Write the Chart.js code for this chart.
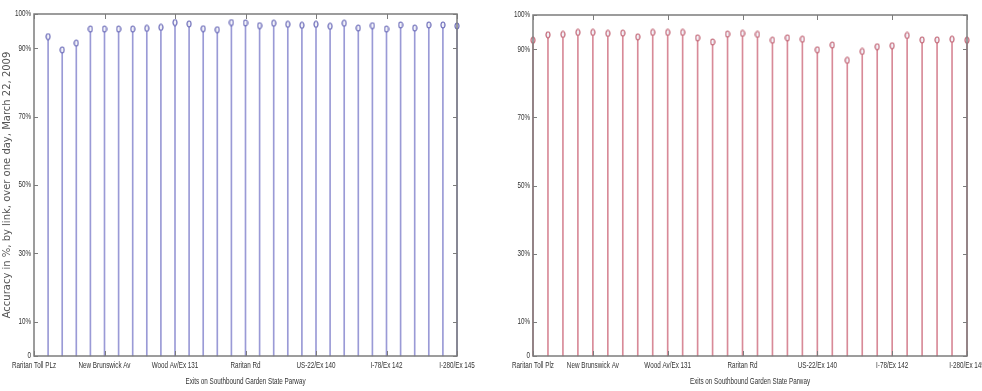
<!DOCTYPE html>
<html>
<head>
<meta charset="utf-8">
<script src="https://cdn.jsdelivr.net/npm/chart.js@4"></script>
<style>
  html, body { margin: 0; padding: 0; background: #fff; }
  body { width: 982px; height: 391px; position: relative; overflow: hidden; }
  .panel { position: absolute; top: 0; width: 491px; height: 391px; }
  #panel-a { left: 0; }
  #panel-b { left: 491px; }
</style>
</head>
<body>
<div class="panel" id="panel-a"><canvas id="chartA" width="491" height="391"></canvas></div>
<div class="panel" id="panel-b"><canvas id="chartB" width="491" height="391"></canvas></div>
<script>
// link numbers along the parkway (one stem per link)
const linkIds = [1, 2, 3, 4, 5, 6, 7, 8, 9, 10, 11, 12, 13, 14, 15, 16, 17, 18, 19, 20, 21, 22, 23, 24, 25, 26, 27, 28, 29, 30];

// accuracy in %, left (blue) and right (red) panels
const accuracyA = [93.4, 89.5, 91.5, 95.6, 95.6, 95.6, 95.6, 95.8, 96.1, 97.5,
                   97.1, 95.7, 95.4, 97.5, 97.4, 96.6, 97.3, 97.0, 96.7, 97.0,
                   96.4, 97.3, 95.9, 96.6, 95.6, 96.8, 95.9, 96.8, 96.8, 96.5];
const accuracyB = [92.6, 94.2, 94.3, 94.9, 94.9, 94.6, 94.7, 93.6, 94.9, 94.9,
                   94.9, 93.3, 92.1, 94.4, 94.6, 94.3, 92.6, 93.3, 92.9, 89.8,
                   91.2, 86.7, 89.3, 90.7, 91.0, 94.0, 92.7, 92.7, 92.9, 92.6];

// axis ticks
const yTickValues = [0, 10, 30, 50, 70, 90, 100];
const xTicksA = [0, 5, 10, 15, 20, 25, 30];
const xTicksB = [1, 5, 10, 15, 20, 25, 30];
const exitLabelsA = ['Raritan Toll PLz', 'New Brunswick Av', 'Wood Av/Ex 131', 'Raritan Rd', 'US-22/Ex 140', 'I-78/Ex 142', 'I-280/Ex 145'];
const exitLabelsB = ['Raritan Toll Plz', 'New Brunswick Av', 'Wood Av/Ex 131', 'Raritan Rd', 'US-22/Ex 140', 'I-78/Ex 142', 'I-280/Ex 145'];

const xTitle = 'Exits on Southbound Garden State Parway';
const yTitle = 'Accuracy in %, by link, over one day, March 22, 2009';

const labelFont = "9px 'Liberation Sans', Arial, sans-serif";
const squeeze = 0.7;   // the original text is a narrow face

// small open ellipse used as the stem head
function makeMarker(stroke) {
    const c = document.createElement('canvas');
    c.width = 6; c.height = 8;
    const g = c.getContext('2d');
    g.beginPath();
    g.ellipse(3, 4, 2, 3, 0, 0, Math.PI * 2);
    g.fillStyle = '#f4f4fa';
    g.fill();
    g.lineWidth = 1.2;
    g.strokeStyle = stroke;
    g.stroke();
    return c;
}

function narrowText(ctx, text, x, y, align, baseline) {
    ctx.save();
    ctx.translate(x, y);
    ctx.scale(squeeze, 1);
    ctx.textAlign = align;
    ctx.textBaseline = baseline;
    ctx.fillText(text, 0, 0);
    ctx.restore();
}

// matlab-like box with inward ticks, plus narrow tick labels
const boxPlugin = {
    id: 'matlabBox',
    afterDatasetsDraw(chart) {
        const { ctx, chartArea: { left, right, top, bottom }, scales: { x, y } } = chart;
        ctx.save();
        ctx.strokeStyle = '#7c7c7c';
        ctx.lineWidth = 1.5;
        ctx.strokeRect(left, top, right - left, bottom - top);
        ctx.lineWidth = 1;
        ctx.beginPath();
        y.ticks.forEach(t => {
            const py = Math.round(y.getPixelForValue(t.value)) + 0.5;
            ctx.moveTo(left, py); ctx.lineTo(left + 4, py);
            ctx.moveTo(right - 4, py); ctx.lineTo(right, py);
        });
        x.ticks.forEach(t => {
            const px = Math.round(x.getPixelForValue(t.value)) + 0.5;
            ctx.moveTo(px, top); ctx.lineTo(px, top + 5);
            ctx.moveTo(px, bottom - 5); ctx.lineTo(px, bottom);
        });
        ctx.stroke();

        const labels = chart.options.plugins.matlabBox;
        ctx.font = labelFont;
        ctx.fillStyle = '#333';
        y.ticks.forEach(t => {
            narrowText(ctx, t.value === 0 ? '0' : t.value + '%', left - 3, y.getPixelForValue(t.value), 'right', 'middle');
        });
        x.ticks.forEach((t, i) => {
            narrowText(ctx, labels.xLabels[i], x.getPixelForValue(t.value), bottom + 5, 'center', 'top');
        });
        narrowText(ctx, xTitle, (left + right) / 2, 382, 'center', 'middle');
        ctx.restore();
    }
};

function buildStemChart(canvasId, values, stemColor, markColor, xTicks, xLabels, opts) {
    const ctx = document.getElementById(canvasId).getContext('2d');
    const pts = linkIds.map((id, i) => ({ x: id, y: values[i] }));
    return new Chart(ctx, {
        type: 'bar',
        data: {
            datasets: [{
                type: 'line',
                data: pts,
                showLine: false,
                pointStyle: makeMarker(markColor),
                pointRadius: 3,
                clip: false,
                order: 0
            }, {
                data: pts,
                backgroundColor: stemColor,
                borderWidth: 0,
                barThickness: 1,
                clip: false,
                order: 1
            }]
        },
        options: {
            responsive: false,
            animation: false,
            events: [],
            layout: { padding: opts.padding },
            plugins: {
                legend: { display: false },
                tooltip: { enabled: false },
                matlabBox: { xLabels: xLabels }
            },
            scales: {
                x: {
                    type: 'linear',
                    offset: false,
                    min: xTicks[0], max: 30,
                    grid: { display: false, drawTicks: false },
                    border: { display: false },
                    afterBuildTicks: s => { s.ticks = xTicks.map(v => ({ value: v })); },
                    afterFit: s => { s.height = 35; s.paddingLeft = 0; s.paddingRight = 0; },
                    ticks: { display: false }
                },
                y: {
                    min: 0, max: 100,
                    grid: { display: false, drawTicks: false },
                    border: { display: false },
                    afterBuildTicks: s => { s.ticks = yTickValues.map(v => ({ value: v })); },
                    afterFit: s => { s.width = opts.yWidth; s.paddingTop = 0; s.paddingBottom = 0; },
                    ticks: { display: false },
                    title: opts.yTitle ? {
                        display: true, text: opts.yTitle, color: '#555',
                        font: { family: "'DejaVu Sans', Verdana, sans-serif", size: 10 },
                        padding: { top: 1, bottom: 0 }
                    } : { display: false }
                }
            }
        },
        plugins: [boxPlugin]
    });
}

buildStemChart('chartA', accuracyA, '#9a9ad6', '#6a6ab8', xTicksA, exitLabelsA,
    { padding: { left: 0, right: 34, top: 14, bottom: 0 }, yWidth: 34, yTitle: yTitle });
buildStemChart('chartB', accuracyB, '#d88a98', '#c26474', xTicksB, exitLabelsB,
    { padding: { left: 0, right: 15, top: 15, bottom: 0 }, yWidth: 42 });
</script>
</body>
</html>
